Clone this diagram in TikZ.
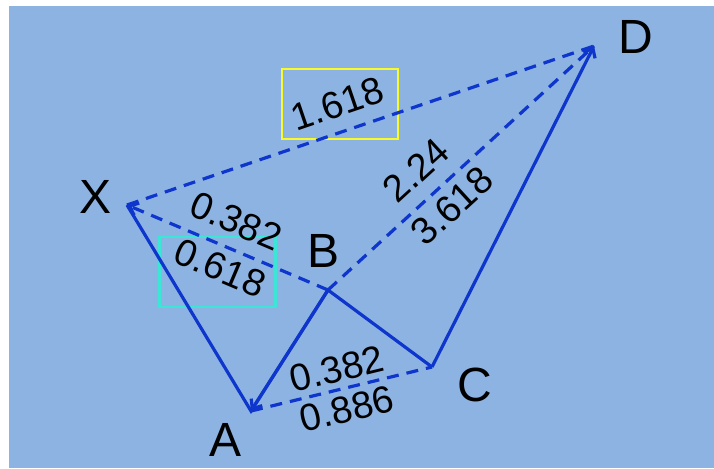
\documentclass[tikz,border=0pt]{standalone}
\usepackage{fontspec}
\setmainfont{Liberation Sans}
\usetikzlibrary{positioning}
\usetikzlibrary{arrows.meta}

\definecolor{bgblue}{RGB}{141,179,226}
\definecolor{legblue}{RGB}{14,54,204}
\definecolor{boxyellow}{RGB}{250,250,40}
\definecolor{boxcyan}{RGB}{60,230,215}

\begin{document}
\begin{tikzpicture}[
        x = 1pt, y = -1pt, % pixel like units, y downwards
        > = {Straight Barb[length=8pt,width=13pt]}, % arrow head style
        leg/.style = {legblue, line width=3.2pt, line join=miter},
        fibo/.style = {legblue, line width=3.2pt, dash pattern=on 12pt off 8pt},
        pointlbl/.style = {font=\fontsize{48}{50}\selectfont, inner sep=0pt},
        ratio/.style = {font=\fontsize{38}{40}\selectfont, inner sep=0pt},
        markbox/.style = {line width=2.5pt, minimum width=116pt, minimum height=70pt, inner sep=0pt}
        ]

  \useasboundingbox (0,0) rectangle (714,468);
  \fill[bgblue] (9,6) rectangle (714,468);

  % pattern points
  \coordinate (x0) at (127,205);
  \coordinate (a0) at (251,411);
  \coordinate (b0) at (328,290);
  \coordinate (c0) at (432,367);
  \coordinate (d0) at (594,46);

  \node[markbox, draw=boxyellow] (ybox) at (340,104) {};
  \node[markbox, draw=boxcyan] (cbox) at (217.5,272) {};

  \draw[leg] (x0) -- (a0) -- (b0) -- (c0);
  \draw[leg,->] (b0) -- (a0);
  \draw[leg,->] (c0) -- (d0);

  \draw[fibo] (x0) -- (d0);
  \draw[fibo,->] (b0) -- (x0);
  \draw[fibo] (b0) -- (d0);
  \draw[fibo] (a0) -- (c0);

  \node[pointlbl] (lx) at (96,197) {X};
  \node[pointlbl] (la) at (226,440) {A};
  \node[pointlbl] (lb) at (324,251) {B};
  \node[pointlbl] (lc) at (475,385) {C};
  \node[pointlbl] (ld) at (636,37) {D};

  \node[ratio, rotate=18.8] (xd) at (337,104) {1.618};
  \node[ratio, rotate=-23] (xb1) at (236,221) {0.382};
  \node[ratio, rotate=-23] (xb2) at (220,268) {0.618};
  \node[ratio, rotate=42.5] (bd1) at (416,170) {2.24};
  \node[ratio, rotate=42.5] (bd2) at (452,206) {3.618};
  \node[ratio, rotate=13.7] (ac1) at (337,369) {0.382};
  \node[ratio, rotate=13.7] (ac2) at (347,409) {0.886};

\end{tikzpicture}
\end{document}
